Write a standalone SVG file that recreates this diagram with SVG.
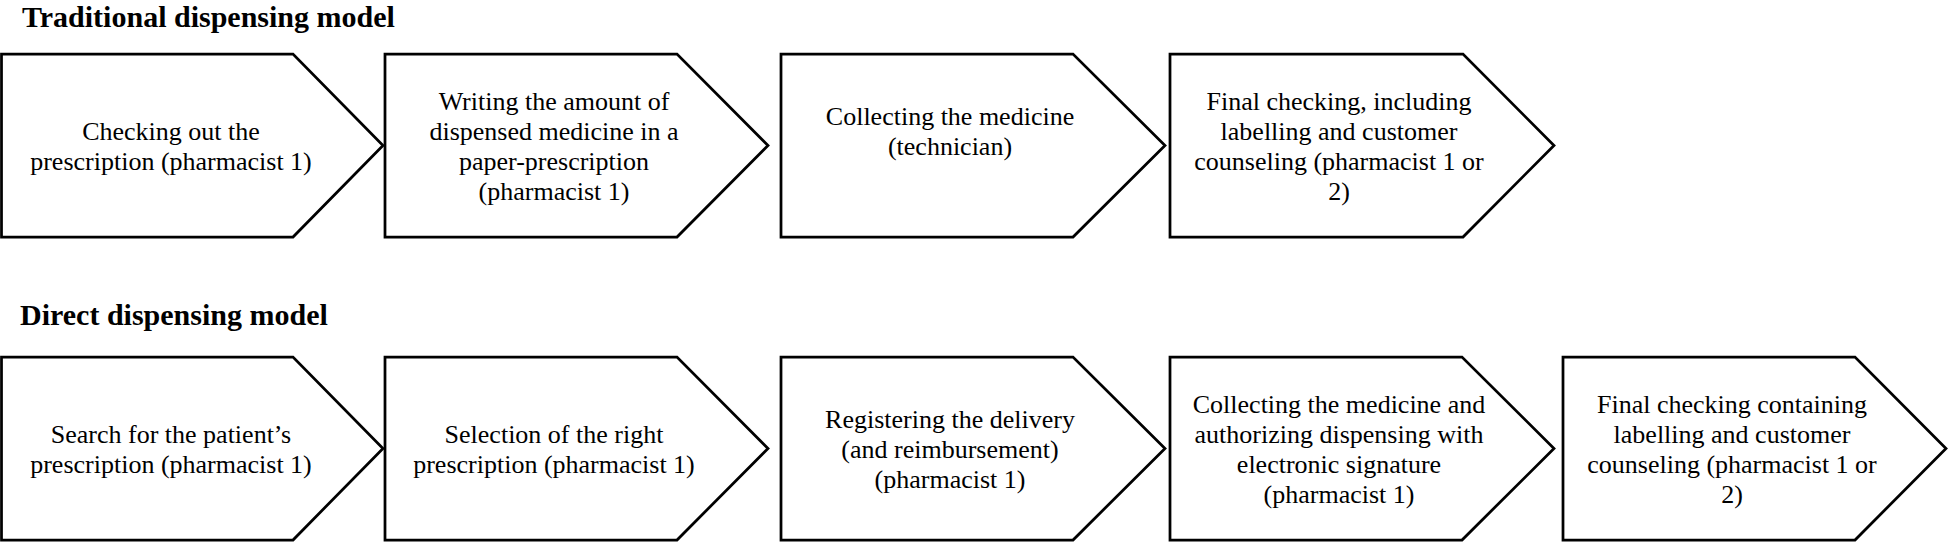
<svg xmlns="http://www.w3.org/2000/svg" width="1949" height="542" viewBox="0 0 1949 542">
<style>
.bg{fill:#ffffff}
.shape{fill:#ffffff;stroke:#000000;stroke-width:2.75;stroke-linejoin:miter}
.title{font-family:"Liberation Serif","Times New Roman",serif;font-weight:bold;font-size:30px;fill:#000000}
.lbl{font-family:"Liberation Serif","Times New Roman",serif;font-size:26px;fill:#000000;text-anchor:middle}
</style>
<rect class="bg" x="0" y="0" width="1949" height="542"/>
<text class="title" x="22" y="27">Traditional dispensing model</text>
<text class="title" x="20" y="325">Direct dispensing model</text>
<g id="connectors"></g>
<g id="n1">
<polygon class="shape" points="1.5,54 293,54 383,145.5 293,237 1.5,237"/>
<text class="lbl"><tspan x="171" y="139.6">Checking out the</tspan><tspan x="171" y="169.6">prescription (pharmacist 1)</tspan></text>
</g>
<g id="n2">
<polygon class="shape" points="385,54 677,54 768,145.5 677,237 385,237"/>
<text class="lbl"><tspan x="554" y="109.6">Writing the amount of</tspan><tspan x="554" y="139.6">dispensed medicine in a</tspan><tspan x="554" y="169.6">paper-prescription</tspan><tspan x="554" y="199.6">(pharmacist 1)</tspan></text>
</g>
<g id="n3">
<polygon class="shape" points="781,54 1073,54 1165,145.5 1073,237 781,237"/>
<text class="lbl"><tspan x="950" y="124.6">Collecting the medicine</tspan><tspan x="950" y="154.6">(technician)</tspan></text>
</g>
<g id="n4">
<polygon class="shape" points="1170,54 1463,54 1554,145.5 1463,237 1170,237"/>
<text class="lbl"><tspan x="1339" y="109.6">Final checking, including</tspan><tspan x="1339" y="139.6">labelling and customer</tspan><tspan x="1339" y="169.6">counseling (pharmacist 1 or</tspan><tspan x="1339" y="199.6">2)</tspan></text>
</g>
<g id="n5">
<polygon class="shape" points="1.5,357 293,357 383,448.5 293,540 1.5,540"/>
<text class="lbl"><tspan x="171" y="442.6">Search for the patient’s</tspan><tspan x="171" y="472.6">prescription (pharmacist 1)</tspan></text>
</g>
<g id="n6">
<polygon class="shape" points="385,357 677,357 768,448.5 677,540 385,540"/>
<text class="lbl"><tspan x="554" y="442.6">Selection of the right</tspan><tspan x="554" y="472.6">prescription (pharmacist 1)</tspan></text>
</g>
<g id="n7">
<polygon class="shape" points="781,357 1073,357 1165,448.5 1073,540 781,540"/>
<text class="lbl"><tspan x="950" y="427.6">Registering the delivery</tspan><tspan x="950" y="457.6">(and reimbursement)</tspan><tspan x="950" y="487.6">(pharmacist 1)</tspan></text>
</g>
<g id="n8">
<polygon class="shape" points="1170,357 1462,357 1554,448.5 1462,540 1170,540"/>
<text class="lbl"><tspan x="1339" y="412.6">Collecting the medicine and</tspan><tspan x="1339" y="442.6">authorizing dispensing with</tspan><tspan x="1339" y="472.6">electronic signature</tspan><tspan x="1339" y="502.6">(pharmacist 1)</tspan></text>
</g>
<g id="n9">
<polygon class="shape" points="1563,357 1855,357 1946,448.5 1855,540 1563,540"/>
<text class="lbl"><tspan x="1732" y="412.6">Final checking containing</tspan><tspan x="1732" y="442.6">labelling and customer</tspan><tspan x="1732" y="472.6">counseling (pharmacist 1 or</tspan><tspan x="1732" y="502.6">2)</tspan></text>
</g>
</svg>
